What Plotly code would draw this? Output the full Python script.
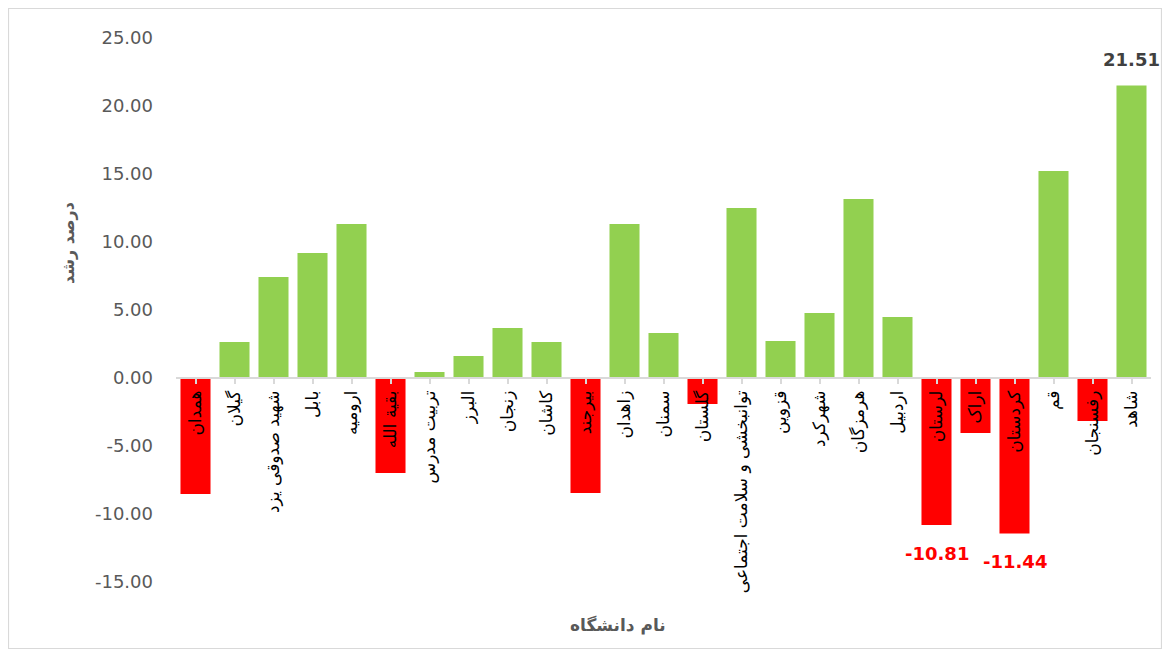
import plotly.graph_objects as go

universities = [
    "همدان", "گیلان", "شهید صدوقی یزد", "بابل", "ارومیه", "بقیة الله",
    "تربیت مدرس", "البرز", "زنجان", "کاشان", "بیرجند", "زاهدان", "سمنان",
    "گلستان", "توانبخشی و سلامت اجتماعی", "قزوین", "شهرکرد", "هرمزگان",
    "اردبیل", "لرستان", "اراک", "کردستان", "قم", "رفسنجان", "شاهد",
]
growth = [
    -8.53, 2.65, 7.43, 9.19, 11.32, -6.99,
    0.44, 1.62, 3.68, 2.65, -8.46, 11.32, 3.31,
    -1.91, 12.50, 2.72, 4.78, 13.16,
    4.49, -10.81, -4.04, -11.44, 15.22, -3.16, 21.51,
]
labeled = ["لرستان", "کردستان", "شاهد"]
y_ticks = [-15, -10, -5, 0, 5, 10, 15, 20, 25]

GREEN = "#92D050"
RED = "#FF0000"
colors = [GREEN if v >= 0 else RED for v in growth]

# page body has an 8px margin; keep the figure inside the viewport
OFF = 8
W, H = 1170 - 2 * OFF, 657 - 2 * OFF
PL, PT, PR, PB = 176, 38, 1151, 582   # plot area in page pixels
L, T = PL - OFF, PT - OFF
PLOT_W = PR - PL
PLOT_H = PB - PT
R = W - L - PLOT_W
B = H - T - PLOT_H


def px_x(page_x):
    return (page_x - PL) / PLOT_W


def px_y(page_y):
    return (PB - page_y) / PLOT_H


fig = go.Figure()
fig.add_trace(go.Bar(
    x=universities, y=growth, marker=dict(color=colors, line=dict(width=0)),
    showlegend=False, hoverinfo="x+y",
))

ymin, ymax = -15, 25
zero_pos = (0 - ymin) / (ymax - ymin)

annotations = []
for name, v in zip(universities, growth):
    if name in labeled:
        annotations.append(dict(
            x=name, y=v, xref="x", yref="y", text=f"<b>{v:.2f}</b>", showarrow=False,
            yshift=26 if v >= 0 else -28,
            font=dict(size=18, color="#404040" if v >= 0 else RED,
                      family="DejaVu Sans"),
            xanchor="center", yanchor="middle",
        ))

annotations.append(dict(
    text="<b>درصد رشد</b>", textangle=-90, showarrow=False,
    xref="paper", yref="paper", x=px_x(68), y=px_y(243),
    font=dict(size=16, color="#595959"), xanchor="center", yanchor="middle",
))
annotations.append(dict(
    text="<b>نام دانشگاه</b>", showarrow=False,
    xref="paper", yref="paper", x=px_x(618), y=px_y(625),
    font=dict(size=17, color="#595959"), xanchor="center", yanchor="middle",
))

fig.update_layout(
    width=W, height=H,
    margin=dict(l=L, r=R, t=T, b=B),
    paper_bgcolor="white", plot_bgcolor="white",
    font=dict(family="DejaVu Sans"),
    bargap=0.23,
    annotations=annotations,
    shapes=[dict(
        type="rect", xref="paper", yref="paper",
        x0=px_x(8.5), x1=px_x(1161.5),
        y0=px_y(648.5), y1=px_y(8.5),
        line=dict(color="#D9D9D9", width=1.2), layer="below",
    )],
)
fig.update_xaxes(
    anchor="free", position=zero_pos, automargin=False,
    range=[-0.5, len(universities) - 0.5],
    showline=True, linecolor="#D9D9D9", linewidth=1.5,
    ticks="outside", ticklen=5, tickcolor="#D9D9D9", tickwidth=1.5,
    tickangle=-90, tickfont=dict(size=17, color="#000000", family="DejaVu Sans"),
    showgrid=False, zeroline=False,
)
fig.update_yaxes(
    range=[ymin, ymax], tickvals=y_ticks, ticktext=[f"{v:.2f}" for v in y_ticks],
    showgrid=False, zeroline=False, showline=False, automargin=False,
    tickfont=dict(size=18, color="#595959", family="DejaVu Sans"),
    ticklabelstandoff=22,
)

fig.write_html("out.html")
